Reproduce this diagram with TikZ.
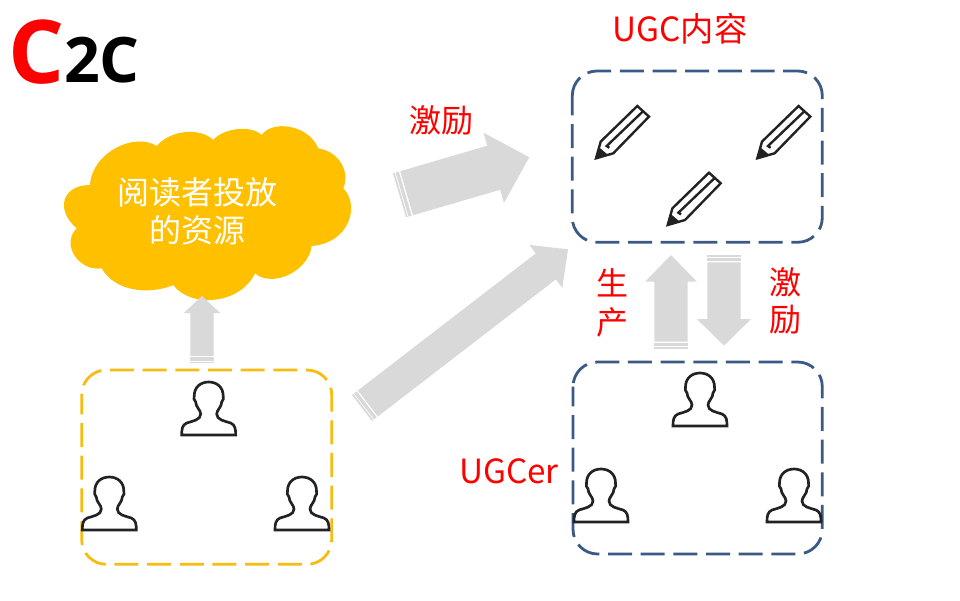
\documentclass[tikz,border=0pt]{standalone}
\usepackage{fontspec}
\setmainfont{Open Sans}
\newfontfamily\cjk{Noto Sans CJK SC}
\usetikzlibrary{calc}
\definecolor{boxblue}{HTML}{3A5A85}
\definecolor{boxyellow}{HTML}{F7BC12}
\definecolor{cloudyellow}{HTML}{FFC000}
\definecolor{arrowgrey}{HTML}{D9D9D9}
\definecolor{iconblack}{HTML}{222222}
\tikzset{
  dashbox/.style={line width=2.1pt,rounded corners=18.5pt,dash pattern=on 18pt off 6.5pt,dash phase=3.2pt},
  redlabel/.style={text=red,font=\cjk\fontsize{24}{24}\selectfont,inner sep=0pt},
  ugclabel/.style={text=red,font=\cjk\fontsize{25}{25}\selectfont,inner sep=0pt},
  cloudlabel/.style={text=white,font=\cjk\fontsize{24}{24}\selectfont,inner sep=0pt},
  person/.pic={
    \draw[iconblack,line width=2pt,line join=miter] (-27,0) -- (27,0) .. controls (27,-6) and (26.5,-10) .. (22,-12)
      .. controls (16,-14) and (8,-15) .. (8,-21) .. controls (8,-25) and (13,-28) .. (13,-33)
      .. controls (15,-35) and (15,-37) .. (14.5,-39) .. controls (14.5,-48) and (8,-53) .. (0,-53)
      .. controls (-8,-53) and (-14.5,-48) .. (-14.5,-39) .. controls (-15,-37) and (-15,-35) .. (-13,-33)
      .. controls (-13,-28) and (-8,-25) .. (-8,-21) .. controls (-8,-15) and (-16,-14) .. (-22,-12)
      .. controls (-26.5,-10) and (-27,-6) .. (-27,0) -- cycle;
  },
  pencil/.pic={
    \draw[iconblack,line width=1.8pt,line join=miter] (0,0) -- (4.7,-16.7) -- (41.3,-52.3) -- (53,-41.7) -- (17.3,-5) -- cycle;
    \draw[iconblack,line width=1.8pt] (46.7,-46.7) -- (10.7,-12.3) -- (13.3,-10.5);
    \fill[iconblack] (0,0) -- (3,-11) -- (12,-3.4) -- cycle;
  }
}
% tail, tip, half shaft width, half head width, head length
\newcommand{\blockarrow}[5]{%
  \foreach \ta/\tb in {0pt/1.3pt,2pt/4.5pt}
    \fill[arrowgrey] ($(#1)!\ta!(#2)!#3!90:(#2)$) -- ($(#1)!\tb!(#2)!#3!90:(#2)$)
      -- ($(#1)!\tb!(#2)!#3!-90:(#2)$) -- ($(#1)!\ta!(#2)!#3!-90:(#2)$) -- cycle;
  \fill[arrowgrey] ($(#1)!5.6pt!(#2)!#3!90:(#2)$) -- ($(#2)!#5!(#1)!#3!-90:(#1)$)
    -- ($(#2)!#5!(#1)!#4!-90:(#1)$) -- (#2) -- ($(#2)!#5!(#1)!#4!90:(#1)$)
    -- ($(#2)!#5!(#1)!#3!90:(#1)$) -- ($(#1)!5.6pt!(#2)!#3!-90:(#2)$) -- cycle;
}

\begin{document}
\begin{tikzpicture}[x=0.75pt,y=-0.75pt]
\useasboundingbox (0,0) rectangle (960,600);
% title
\node[inner sep=0pt,text=red,font=\bfseries\fontsize{66}{66}\selectfont] (bigc) at (37,52) {C};
\node[inner sep=0pt,font=\bfseries\fontsize{47}{47}\selectfont] (twoc) at (102,60) {2C};
% cloud
\fill[cloudyellow] (90,185) .. controls (92,152) and (135,132) .. (156.7,146)
  .. controls (170,130) and (200,127) .. (213.3,140)
  .. controls (222,129) and (250,124) .. (261.7,135)
  .. controls (272,120) and (308,124) .. (318.3,148.3)
  .. controls (340,152) and (350,172) .. (343.3,188.3)
  .. controls (360,205) and (350,243) .. (311.7,246)
  .. controls (308,272) and (272,288) .. (255,273.3)
  .. controls (240,305) and (190,308) .. (173.3,285)
  .. controls (150,295) and (115,292) .. (101.7,268.3)
  .. controls (80,272) and (60,245) .. (76.7,228.3)
  .. controls (55,210) and (62,185) .. (90,185) -- cycle;
\node[cloudlabel] (cloudtop) at (197,192) {阅读者投放};
\node[cloudlabel] (cloudbot) at (197,230) {的资源};
% dashed groups
\draw[dashbox,boxblue] (572.3,71) rectangle (822.3,242.3);
\draw[dashbox,boxblue] (573,362) rectangle (822.3,554);
\draw[dashbox,boxyellow] (81.7,370) rectangle (331.7,564.3);
% people
\foreach \px/\py in {208.7/435,109.3/530,302/530,700/426,601/522,794/522}
  \pic at (\px,\py) {person};
% pencils
\foreach \px/\py in {596/158.3,757.3/158.3,667.7/225}
  \pic at (\px,\py) {pencil};
% flow arrows
\coordinate (cloudtail) at (202,363.3);
\coordinate (cloudtip) at (202,296);
\coordinate (paytail) at (399.5,195.3);
\coordinate (paytip) at (529.3,157.3);
\coordinate (readertail) at (362,408);
\coordinate (readertip) at (568,249.3);
\coordinate (maketail) at (671,349);
\coordinate (maketip) at (671,255);
\coordinate (rewardtail) at (724,255);
\coordinate (rewardtip) at (724,345.7);
\blockarrow{cloudtail}{cloudtip}{8.8pt}{13.7pt}{12.8pt}
\blockarrow{paytail}{paytip}{17.2pt}{27.4pt}{27.8pt}
\blockarrow{readertail}{readertip}{12.3pt}{20.3pt}{21pt}
\blockarrow{maketail}{maketip}{12.5pt}{19.4pt}{20pt}
\blockarrow{rewardtail}{rewardtip}{12.5pt}{20.3pt}{20pt}
% labels
\node[redlabel] (reward) at (441,120) {激励};
\node[ugclabel] (content) at (680,29) {UGC内容};
\node[ugclabel] (ugcer) at (509,471) {UGCer};
\node[redlabel] (make1) at (612,283) {生};
\node[redlabel] (make2) at (612,322) {产};
\node[redlabel] (back1) at (785,282) {激};
\node[redlabel] (back2) at (785,320) {励};
\end{tikzpicture}
\end{document}
